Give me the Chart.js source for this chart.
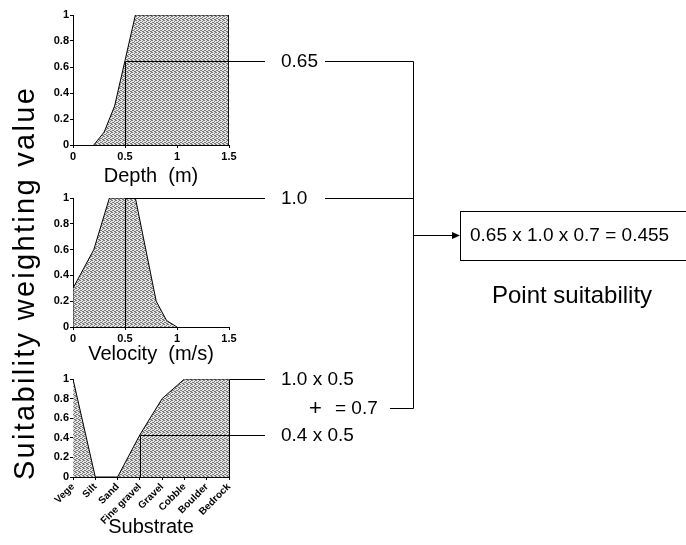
<!DOCTYPE html>
<html>
<head>
<meta charset="utf-8">
<script src="https://cdn.jsdelivr.net/npm/chart.js@4.4.1/dist/chart.umd.min.js"></script>
<style>
    html, body { margin: 0; padding: 0; background: #fff; }
    #wrap { position: relative; width: 686px; height: 545px; overflow: hidden; background: #fff; }
    #wrap canvas { position: absolute; left: 0; }
</style>
</head>
<body>
<div id="wrap">
    <canvas id="chart-depth" width="250" height="188" style="top:0px"></canvas>
    <canvas id="chart-velocity" width="250" height="186" style="top:180px"></canvas>
    <canvas id="chart-substrate" width="250" height="179" style="top:360px"></canvas>
    <canvas id="overlay" width="686" height="545" style="top:0px"></canvas>
</div>
<script>
// Depth suitability curve
const depthX = [0.2, 0.3, 0.4, 0.5, 0.6, 1.5, 1.5];
const depthY = [0, 0.1, 0.3, 0.65, 1, 1, 0];
const depthRead = 0.5;
const depthValue = 0.65;

// Velocity suitability curve
const velocityX = [0, 0, 0.2, 0.35, 0.6, 0.8, 0.9, 1.0];
const velocityY = [0, 0.3, 0.6, 1, 1, 0.2, 0.05, 0];
const velocityRead = 0.5;
const velocityValue = 1.0;

// Substrate suitability curve
const substrateLabels = ['Vege', 'Silt', 'Sand', 'Fine gravel', 'Gravel', 'Cobble', 'Boulder', 'Bedrock'];
const substrateY = [1, 0, 0, 0.43, 0.8, 1, 1, 1];
const substrateReads = [7, 3];          // Bedrock, Fine gravel
const substrateValues = [1.0, 0.43];
const substrateMix = 5.45;

// Text of the calculation
const depthText = '0.65';
const velocityText = '1.0';
const substrateTexts = ['1.0 x 0.5', '0.4 x 0.5'];
const sumText = '= 0.7';
const resultText = '0.65 x 1.0 x 0.7 = 0.455';
const resultTitle = 'Point suitability';
const yTitle = 'Suitability weighting value';

const FONT = "'Liberation Sans', Arial, Helvetica, sans-serif";

// Stippled grey fill
function makePattern() {
    const p = document.createElement('canvas');
    p.width = 4;
    p.height = 4;
    const c = p.getContext('2d');
    c.fillStyle = '#e6e6e6';
    c.fillRect(0, 0, 4, 4);
    c.fillStyle = '#7a7a7a';
    [[0, 0], [2, 1], [1, 2], [3, 3], [2, 3], [0, 2], [3, 0]].forEach(d => c.fillRect(d[0], d[1], 1, 1));
    return c.createPattern(p, 'repeat');
}
const stipple = makePattern();

function toPoints(xs, ys) {
    return xs.map((x, i) => ({ x: x, y: ys[i] }));
}

function fmt(v) {
    return String(Number(v.toFixed(2)));
}

const tickFont = { family: FONT, size: 11, weight: 'bold' };

function makeChart(id, datasets, xOpts, padTop, xHeight, title) {
    const ctx = document.getElementById(id);
    return new Chart(ctx, {
        type: 'line',
        data: { datasets: datasets },
        options: {
            responsive: false,
            animation: false,
            devicePixelRatio: 1,
            layout: { padding: { top: padTop, right: 21, left: 0, bottom: 0 } },
            plugins: { legend: { display: false }, tooltip: { enabled: false } },
            elements: { point: { radius: 0 }, line: { tension: 0 } },
            scales: {
                x: Object.assign({
                    type: 'linear',
                    grid: { drawOnChartArea: false, color: '#000', tickLength: 3 },
                    border: { color: '#000', width: 1 },
                    title: { display: true, text: title, color: '#000', font: { family: FONT, size: 20 }, padding: 0 },
                    afterFit: s => { s.height = xHeight; }
                }, xOpts),
                y: {
                    min: 0,
                    max: 1,
                    ticks: { stepSize: 0.2, autoSkip: false, color: '#000', padding: 1, font: tickFont, callback: fmt },
                    grid: { drawOnChartArea: false, color: '#000', tickLength: 3 },
                    border: { color: '#000', width: 1 },
                    afterFit: s => { s.width = 73; }
                }
            }
        }
    });
}

const chartDepth = makeChart('chart-depth', [{
    data: toPoints(depthX, depthY),
    borderColor: '#000',
    borderWidth: 1,
    backgroundColor: stipple,
    fill: 'origin'
}], {
    min: 0, max: 1.5,
    ticks: { stepSize: 0.5, color: '#000', padding: 2, font: tickFont, maxRotation: 0, callback: fmt }
}, 15, 43, 'Depth  (m)');

const chartVelocity = makeChart('chart-velocity', [{
    data: toPoints(velocityX, velocityY),
    borderColor: '#000',
    borderWidth: 1,
    backgroundColor: stipple,
    fill: 'origin'
}], {
    min: 0, max: 1.5,
    ticks: { stepSize: 0.5, color: '#000', padding: 2, font: tickFont, maxRotation: 0, callback: fmt }
}, 18, 39, 'Velocity  (m/s)');

const chartSubstrate = makeChart('chart-substrate', [{
    data: toPoints(substrateLabels.map((l, i) => i), substrateY),
    borderColor: '#000',
    borderWidth: 1,
    backgroundColor: stipple,
    fill: 'origin'
}, {
    data: [{ x: substrateMix, y: 0 }, { x: substrateMix, y: 1 }],
    borderColor: '#000',
    borderWidth: 1,
    fill: false
}], {
    min: 0, max: 7,
    ticks: {
        stepSize: 1, autoSkip: false, color: '#000', padding: 1,
        font: { family: FONT, size: 10, weight: 'bold' },
        minRotation: 45, maxRotation: 45,
        callback: v => substrateLabels[v]
    }
}, 19, 62, 'Substrate');

// Overlay: guide lines, bracket and calculation
const ov = document.getElementById('overlay').getContext('2d');
ov.strokeStyle = '#000';
ov.fillStyle = '#000';
ov.lineWidth = 1;

function guide(chart, top, xv, yv, xEnd) {
    const x = Math.round(chart.scales.x.getPixelForValue(xv)) + 0.5;
    const y0 = top + chart.scales.y.getPixelForValue(0);
    const y = Math.round(top + chart.scales.y.getPixelForValue(yv)) + 0.5;
    ov.beginPath();
    ov.moveTo(x, y0);
    ov.lineTo(x, y);
    ov.lineTo(xEnd, y);
    ov.stroke();
    return y;
}

function hline(x1, x2, y) {
    ov.beginPath();
    ov.moveTo(x1, y);
    ov.lineTo(x2, y);
    ov.stroke();
}

const lineEnd = 265;
const textX = 281;
const bracketX = 413.5;

ov.font = '19px ' + FONT;
ov.textBaseline = 'middle';
ov.textAlign = 'left';

const yDepth = guide(chartDepth, 0, depthRead, depthValue, lineEnd);
ov.fillText(depthText, textX, yDepth);
hline(325, bracketX, yDepth);

const yVel = guide(chartVelocity, 180, velocityRead, velocityValue, lineEnd);
ov.fillText(velocityText, textX, yVel);
hline(325, bracketX, yVel);

const ySub1 = guide(chartSubstrate, 360, substrateReads[0], substrateValues[0], lineEnd);
ov.fillText(substrateTexts[0], textX, ySub1);
const ySub2 = guide(chartSubstrate, 360, substrateReads[1], substrateValues[1], lineEnd);
ov.fillText(substrateTexts[1], textX, ySub2);

const ySum = Math.round((ySub1 + ySub2) / 2) + 0.5;
ov.font = '22px ' + FONT;
ov.fillText('+', 309, ySum);
ov.font = '19px ' + FONT;
ov.fillText(sumText, 335, ySum);
hline(390, bracketX, ySum);

// bracket
ov.beginPath();
ov.moveTo(bracketX, yDepth);
ov.lineTo(bracketX, ySum);
ov.stroke();

// arrow to the result box
const yArrow = Math.round((yDepth + ySum) / 2) + 0.5;
hline(bracketX, 454, yArrow);
ov.beginPath();
ov.moveTo(460, yArrow);
ov.lineTo(452, yArrow - 3.5);
ov.lineTo(452, yArrow + 3.5);
ov.closePath();
ov.fill();

// result box
ov.strokeRect(460.5, 211.5, 240, 49);
ov.fillText(resultText, 470, yArrow);

ov.font = '24px ' + FONT;
ov.fillText(resultTitle, 492, 296);

// vertical axis title
ov.save();
ov.translate(26, 283);
ov.rotate(-Math.PI / 2);
ov.font = '29px ' + FONT;
ov.textAlign = 'center';
ov.letterSpacing = '2.3px';
ov.fillText(yTitle, 0, 0);
ov.restore();
</script>
</body>
</html>
